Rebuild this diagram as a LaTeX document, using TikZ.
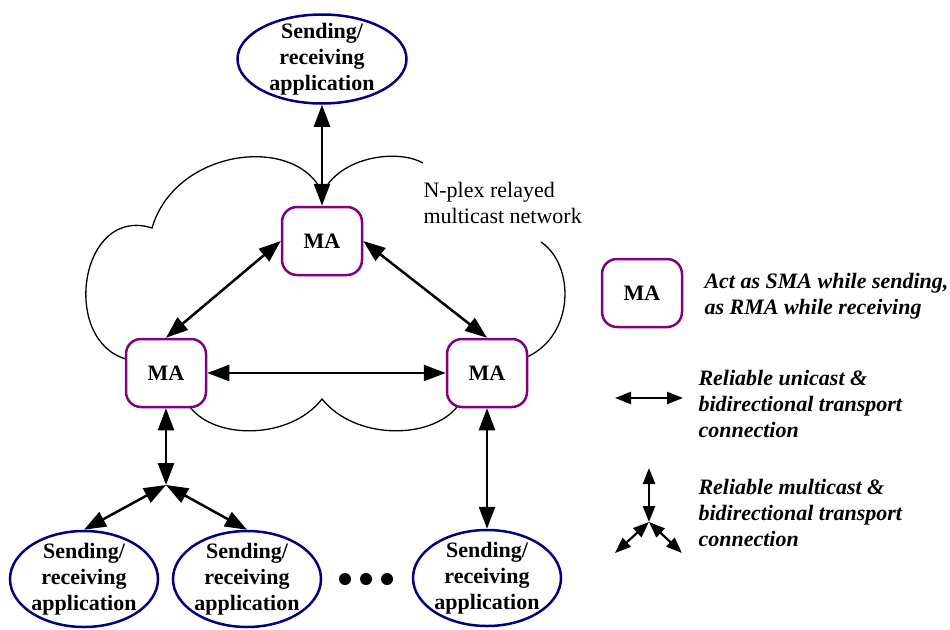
\documentclass[tikz,border=0pt]{standalone}
\usepackage{fontspec}
\setmainfont{Liberation Serif}
\usetikzlibrary{shapes.geometric,arrows.meta}
\definecolor{appblue}{RGB}{0,0,128}
\definecolor{mapurple}{RGB}{128,0,128}
\newcommand{\diagsize}{\fontsize{22}{26}\selectfont}
\tikzset{
  app/.style={ellipse,draw=appblue,line width=2.5pt,inner sep=-20pt,
    minimum width=148pt,minimum height=96pt,align=center,font=\diagsize\bfseries},
  agent/.style={draw=mapurple,fill=white,line width=2.5pt,rounded corners=15pt,
    minimum width=80pt,minimum height=68pt,font=\diagsize\bfseries},
  conn/.style={{Triangle[length=22pt,width=16pt]}-{Triangle[length=22pt,width=16pt]},
    line width=2.5pt},
  keyconn/.style={{Triangle[length=16pt,width=12pt]}-{Triangle[length=16pt,width=12pt]},
    line width=2.2pt},
  keytext/.style={anchor=west,align=left,font=\diagsize\bfseries\itshape}
}
\begin{document}
\begin{tikzpicture}[x=1pt,y=-1pt,font=\diagsize]
\useasboundingbox (0,0) rectangle (950,629);
% cloud
\draw[line width=1.3pt] (126,359) .. controls (60,340) and (80,205) .. (152,228)
  .. controls (175,150) and (290,135) .. (320,188);
\draw[line width=1.3pt] (328,184) .. controls (350,155) and (400,150) .. (423,163);
\draw[line width=1.3pt] (541,242) .. controls (575,265) and (575,335) .. (527,357);
\draw[line width=1.3pt] (190,407) .. controls (215,440) and (290,440) .. (322,399)
  .. controls (355,440) and (430,440) .. (457,407);
\node[anchor=west,align=left] (netlabel) at (420,203) {N-plex relayed\\multicast network};
% agents
\node[agent] (ma0) at (322,241) {MA};
\node[agent] (ma1) at (166,373) {MA};
\node[agent] (ma2) at (487,373) {MA};
% applications
\node[app,minimum width=169pt,minimum height=89pt] (app0) at (322,59) {Sending/\\receiving\\application};
\node[app] (app1) at (84,579) {Sending/\\receiving\\application};
\node[app] (app2) at (247,579) {Sending/\\receiving\\application};
\node[app] (app3) at (487,578) {Sending/\\receiving\\application};
\foreach \i/\x in {1/345,2/366,3/387}
  \node[circle,fill,inner sep=0,minimum size=12pt] (dot\i) at (\x,579) {};
\coordinate (jn) at (166,485);
% connections
\draw[conn] (app0) -- (ma0);
\draw[conn] (ma1.north) -- (ma0.west);
\draw[conn] (ma0.east) -- (ma2.north);
\draw[conn] (ma1) -- (ma2);
\draw[conn] (ma1) -- (jn);
\draw[conn] (jn) -- (app1.north);
\draw[conn] (jn) -- (app2.north);
\draw[conn] (ma2) -- (app3);
% legend
\node[agent] (keyma) at (642,293) {MA};
\node[keytext] (keymatext) at (701,296) {Act as SMA while sending,\\as RMA while receiving};
\coordinate (u1) at (615,398);
\coordinate (u2) at (683,398);
\draw[keyconn] (u1) -- (u2);
\node[keytext] (keyuni) at (695,404) {Reliable unicast \&\\bidirectional transport\\connection};
\coordinate (m0) at (649,522);
\coordinate (m1) at (649,468);
\coordinate (m2) at (615,553);
\coordinate (m3) at (682,553);
\draw[keyconn] (m0) -- (m1);
\draw[keyconn] (m0) -- (m2);
\draw[keyconn] (m0) -- (m3);
\node[keytext] (keymulti) at (695,513) {Reliable multicast \&\\bidirectional transport\\connection};
\end{tikzpicture}
\end{document}
